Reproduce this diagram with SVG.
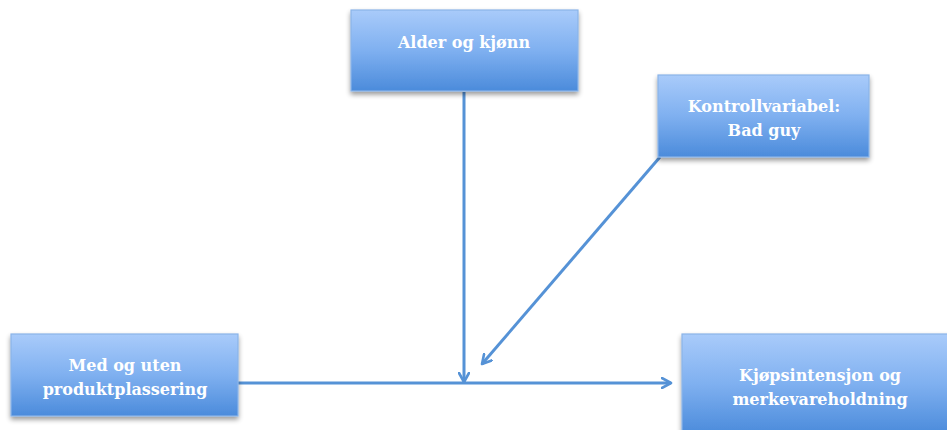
<svg xmlns="http://www.w3.org/2000/svg" width="947" height="430" viewBox="0 0 947 430">
<defs>
<linearGradient id="g" x1="0" y1="0" x2="0" y2="1">
<stop offset="0" stop-color="#a9cbfa"/>
<stop offset="0.5" stop-color="#7fb0f0"/>
<stop offset="1" stop-color="#4b8bdb"/>
</linearGradient>
<filter id="sh" x="-10%" y="-10%" width="120%" height="130%">
<feGaussianBlur in="SourceAlpha" stdDeviation="2.5"/>
<feOffset dx="0" dy="3" result="b"/>
<feComponentTransfer><feFuncA type="linear" slope="0.4"/></feComponentTransfer>
<feMerge><feMergeNode/><feMergeNode in="SourceGraphic"/></feMerge>
</filter>
<marker id="arr" viewBox="0 0 12 12" refX="10" refY="6" markerWidth="12" markerHeight="12" markerUnits="userSpaceOnUse" orient="auto">
<path d="M1,1 L10,6 L1,11" fill="none" stroke="#5592d6" stroke-width="2.6" stroke-linecap="round" stroke-linejoin="round"/>
</marker>
</defs>
<style>
.box{fill:url(#g);stroke:#8ab4e8;stroke-width:1.2;filter:url(#sh)}
.t{font-family:"DejaVu Serif","Liberation Serif",serif;font-weight:bold;font-size:16px;fill:#ffffff;text-anchor:middle}
.c{stroke:#5592d6;stroke-width:3;fill:none;marker-end:url(#arr)}
</style>
<g id="connectors">
<line class="c" x1="464" y1="92" x2="464" y2="382"/>
<line class="c" x1="238" y1="383" x2="671" y2="383"/>
<line class="c" x1="660" y1="157" x2="482" y2="364"/>
</g>
<g id="alder">
<rect class="box" x="351" y="10" width="227" height="81"/>
<text class="t" x="464" y="48">Alder og kjønn</text>
</g>
<g id="kontroll">
<rect class="box" x="658" y="75" width="211" height="82"/>
<text class="t" x="764" y="112">Kontrollvariabel:</text>
<text class="t" x="764" y="136">Bad guy</text>
</g>
<g id="med">
<rect class="box" x="11" y="334" width="227" height="82"/>
<text class="t" x="125" y="371">Med og uten</text>
<text class="t" x="125" y="395">produktplassering</text>
</g>
<g id="kjops">
<rect class="box" x="682" y="334" width="276" height="100"/>
<text class="t" x="820" y="381">Kjøpsintensjon og</text>
<text class="t" x="820" y="405">merkevareholdning</text>
</g>
</svg>
